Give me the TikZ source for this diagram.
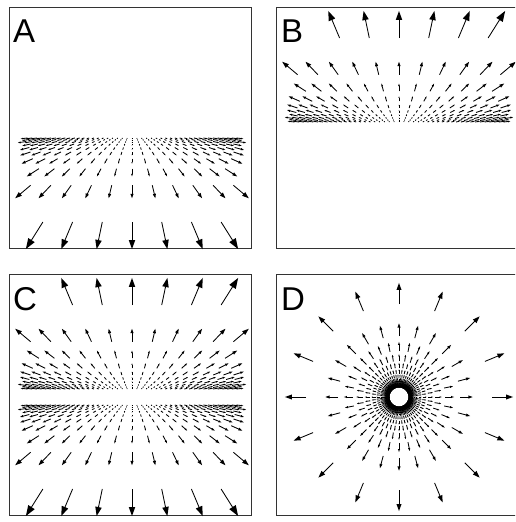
\documentclass[tikz,border=0pt]{standalone}
\usepackage{fontspec}
\setmainfont{Liberation Sans}
% #1 x, #2 y (tail), #3 u, #4 v (vector), all expressions
\newcommand\flowarrow[4]{%
  \pgfmathsetmacro\ax{#1}\pgfmathsetmacro\ay{#2}%
  \pgfmathsetmacro\au{#3}\pgfmathsetmacro\av{#4}%
  \pgfmathsetmacro\bx{\ax+0.75*\au}\pgfmathsetmacro\by{\ay+0.75*\av}%
  \pgfmathsetmacro\tx{\ax+\au}\pgfmathsetmacro\ty{\ay+\av}%
  \pgfmathsetmacro\cxa{\tx-0.33*\au-0.12*\av}\pgfmathsetmacro\cya{\ty-0.33*\av+0.12*\au}%
  \pgfmathsetmacro\cxb{\tx-0.33*\au+0.12*\av}\pgfmathsetmacro\cyb{\ty-0.33*\av-0.12*\au}%
  \draw[arr] (\ax,\ay) -- (\bx,\by);
  \fill (\tx,\ty) -- (\cxa,\cya) -- (\cxb,\cyb) -- cycle;
}
% #1 fx, #2 fy, #3 sign (1 floor, -1 ceiling)
\newcommand\groundflow[3]{%
  \foreach \yrow [count=\krow from 0] in {92,55.3,38.7,28.7,22,17.5,14,11.5,9.5,8}{%
    \pgfmathsetmacro\sgap{\yrow^0.75}%
    \pgfmathtruncatemacro\ncol{floor(108/\sgap)}%
    \pgfmathsetmacro\vmag{0.0384*\yrow^1.45}%
    \foreach \icol in {-\ncol,...,\ncol}{%
      \pgfmathsetmacro\xcol{\icol*\sgap}%
      \pgfmathsetmacro\uu{0.65*\xcol*\vmag/\yrow}%
      \pgfmathsetmacro\vv{(#3)*\vmag}%
      \pgfmathtruncatemacro\skipit{((#3)<0)&&(\krow==0)&&(\icol==-3)}%
      \ifnum\skipit=0
        \flowarrow{#1+\xcol}{#2+(#3)*\yrow}{\uu}{\vv}%
      \fi
    }%
  }%
}
\newcommand\tunnelflow[2]{%
  \foreach \rring [count=\krow from 0] in {93,61,46,36,29,23.5,19.5,16.5,14.5,13,12,11,10.2,9.5}{%
    \pgfmathtruncatemacro\nring{16+8*\krow+2*max(\krow-5,0)^2}%
    \pgfmathtruncatemacro\nringm{\nring-1}%
    \pgfmathsetmacro\dang{360/\nring}%
    \pgfmathsetmacro\mring{0.0913*\rring^1.2}%
    \foreach \jang in {0,...,\nringm}{%
      \pgfmathsetmacro\tang{\dang*\jang}%
      \pgfmathsetmacro\pxx{\rring*cos(\tang)}%
      \pgfmathsetmacro\pyy{\rring*sin(\tang)}%
      \pgfmathsetmacro\uu{\mring*cos(\tang)}%
      \pgfmathsetmacro\vv{\mring*sin(\tang)}%
      \flowarrow{#1+\pxx}{#2+\pyy}{\uu}{\vv}%
    }%
  }%
}
\begin{document}
\begin{tikzpicture}[x=1pt,y=-1pt,
  frame/.style={draw=black!80, line width=0.8pt},
  arr/.style={line width=0.85pt},
  lbl/.style={anchor=base west, inner sep=0pt, font=\fontsize{33}{33}\selectfont}]
\useasboundingbox (0,0) rectangle (515,522);
\clip (0,0) rectangle (515,522);
\fill[white] (0,0) rectangle (515,522);
% frames
\draw[frame] (9,7) rectangle (251,248);
\draw[frame] (276,7) rectangle (518,248);
\draw[frame] (9,274) rectangle (251,515);
\draw[frame] (276,274) rectangle (518,515);
% A: floor
\groundflow{132}{130}{1}
% B: ceiling
\groundflow{399}{130}{-1}
% C: corridor
\groundflow{132}{397}{1}
\groundflow{132}{397}{-1}
% D: tunnel
\tunnelflow{399}{397}
% labels
\node[lbl] (la) at (13,42) {A};
\node[lbl] (lb) at (281,42) {B};
\node[lbl] (lc) at (13,310) {C};
\node[lbl] (ld) at (281,310) {D};
\end{tikzpicture}
\end{document}
